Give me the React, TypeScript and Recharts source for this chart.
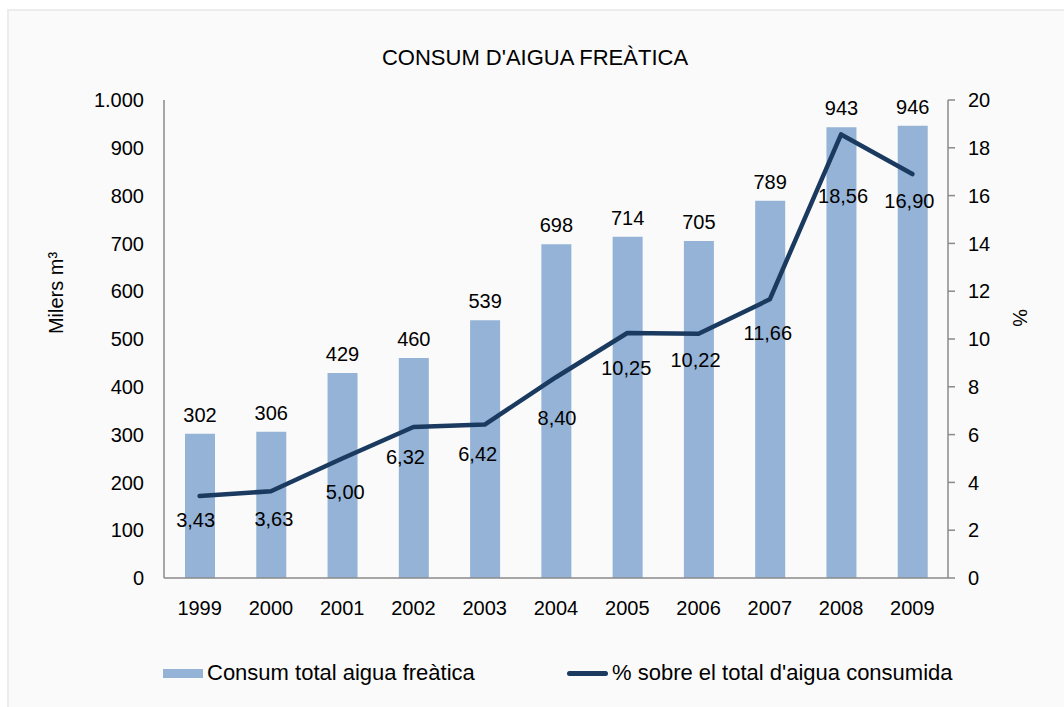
import React from 'react';
import { ComposedChart, Bar, Line, XAxis, YAxis, LabelList } from 'recharts';

const years = ['1999', '2000', '2001', '2002', '2003', '2004', '2005', '2006', '2007', '2008', '2009'];
const consumTotal = [302, 306, 429, 460, 539, 698, 714, 705, 789, 943, 946];
const percentTotal = [3.43, 3.63, 5.0, 6.32, 6.42, 8.4, 10.25, 10.22, 11.66, 18.56, 16.9];
const leftTicks = [0, 100, 200, 300, 400, 500, 600, 700, 800, 900, 1000];
const rightTicks = [0, 2, 4, 6, 8, 10, 12, 14, 16, 18, 20];

const TITLE = "CONSUM D'AIGUA FREÀTICA";
const BAR_NAME = 'Consum total aigua freàtica';
const LINE_NAME = "% sobre el total d'aigua consumida";

// label nudges (style only): distance below the point, horizontal shift
const pctLabelGap = [17, 20, 26, 23, 22, 33, 28, 19, 26, 54, 20];
const pctLabelShiftX = [-4, 3, 3, -8, -7, 1, -1, -3, -2, 2, -3];

const BAR_COLOR = '#95B3D7';
const LINE_COLOR = '#1B3A5F';
const AXIS_COLOR = '#8A8A8A';
const FONT = '"Liberation Sans", Arial, sans-serif';

const data = years.map((year, i) => ({ year, consum: consumTotal[i], pct: percentTotal[i] }));

const fmtThousands = (v: number) => {
  const s = String(Math.round(v));
  return s.replace(/\B(?=(\d{3})+(?!\d))/g, '.');
};
const fmtPct = (v: number) => v.toFixed(2).replace('.', ',');

const PctLabel = (props: any) => {
  const vb = props.viewBox || {};
  const x = vb.x ?? props.x;
  const y = vb.y ?? props.y;
  const i = props.index ?? 0;
  if (x == null || y == null) return null;
  return (
    <text
      x={x + (pctLabelShiftX[i] || 0)}
      y={y + (pctLabelGap[i] || 20) + 14.3}
      textAnchor="middle"
      fontSize={20}
      fontFamily={FONT}
      fill="#000"
    >
      {fmtPct(Number(props.value))}
    </text>
  );
};

const LeftAxisTitle = (props: any) => {
  const vb = props.viewBox || { x: 0, y: 100 };
  const cx = vb.x + 63;
  const cy = vb.y + 193;
  return (
    <text
      x={cx}
      y={cy}
      transform={`rotate(-90, ${cx}, ${cy})`}
      textAnchor="middle"
      fontSize={20}
      fontFamily={FONT}
      fill="#000"
    >
      Milers m³
    </text>
  );
};

const RightAxisTitle = (props: any) => {
  const vb = props.viewBox || { x: 948, y: 100 };
  const cx = vb.x + 65;
  const cy = vb.y + 218;
  return (
    <text
      x={cx}
      y={cy}
      transform={`rotate(90, ${cx}, ${cy})`}
      textAnchor="middle"
      fontSize={20}
      fontFamily={FONT}
      fill="#000"
    >
      %
    </text>
  );
};

export default function App() {
  const tickStyle = { fontSize: 20, fontFamily: FONT, fill: '#000' };
  return (
    <div style={{ position: 'absolute', left: 0, top: 0, width: 1064, height: 707, background: '#fff', overflow: 'hidden' }}>
      <div
        style={{
          position: 'absolute',
          left: 7,
          top: 9,
          width: 1070,
          height: 710,
          background: '#FAFAFA',
          borderLeft: '2px solid #ECECEC',
          borderTop: '2px solid #ECECEC',
        }}
      />
      <div
        style={{
          position: 'absolute',
          left: 535,
          top: 47,
          transform: 'translateX(-50%)',
          fontFamily: FONT,
          fontSize: 22,
          lineHeight: '22px',
          whiteSpace: 'nowrap',
          color: '#000',
        }}
      >
        {TITLE}
      </div>
      <div style={{ position: 'absolute', left: 0, top: 0 }}>
        <ComposedChart width={1064} height={707} data={data} margin={{ top: 100, right: 0, bottom: 0, left: 0 }}>
          <XAxis
            dataKey="year"
            height={129}
            tick={tickStyle}
            tickLine={false}
            tickSize={0}
            tickMargin={23}
            axisLine={{ stroke: AXIS_COLOR, strokeWidth: 1.5 }}
            interval={0}
          />
          <YAxis
            yAxisId="left"
            width={164}
            domain={[0, 1000]}
            ticks={leftTicks}
            tickFormatter={fmtThousands}
            tick={tickStyle}
            tickLine={false}
            tickSize={0}
            tickMargin={20}
            axisLine={{ stroke: AXIS_COLOR, strokeWidth: 1.5 }}
            interval={0}
            label={LeftAxisTitle}
          />
          <YAxis
            yAxisId="right"
            orientation="right"
            width={116}
            domain={[0, 20]}
            ticks={rightTicks}
            tick={tickStyle}
            tickLine={{ stroke: AXIS_COLOR, strokeWidth: 1.5 }}
            tickSize={7}
            tickMargin={13}
            axisLine={{ stroke: AXIS_COLOR, strokeWidth: 1.5 }}
            interval={0}
            label={RightAxisTitle}
          />
          <Bar yAxisId="left" dataKey="consum" name={BAR_NAME} fill={BAR_COLOR} barSize={30} isAnimationActive={false}>
            <LabelList dataKey="consum" position="top" offset={12} fontSize={20} fontFamily={FONT} fill="#000" />
          </Bar>
          <Line
            yAxisId="right"
            dataKey="pct"
            name={LINE_NAME}
            type="linear"
            stroke={LINE_COLOR}
            strokeWidth={4.5}
            strokeLinecap="round"
            strokeLinejoin="round"
            dot={false}
            activeDot={false}
            isAnimationActive={false}
          >
            <LabelList dataKey="pct" content={PctLabel} />
          </Line>
        </ComposedChart>
      </div>
      <div style={{ position: 'absolute', left: 163, top: 662, height: 22, fontFamily: FONT, fontSize: 22, lineHeight: '22px', color: '#000', whiteSpace: 'nowrap' }}>
        <span style={{ position: 'absolute', left: 0, top: 7, width: 40, height: 9, background: BAR_COLOR }} />
        <span style={{ position: 'absolute', left: 44, top: 0 }}>{BAR_NAME}</span>
        <span style={{ position: 'absolute', left: 404, top: 9, width: 41, height: 5, borderRadius: 3, background: LINE_COLOR }} />
        <span style={{ position: 'absolute', left: 449, top: 0 }}>{LINE_NAME}</span>
      </div>
    </div>
  );
}
